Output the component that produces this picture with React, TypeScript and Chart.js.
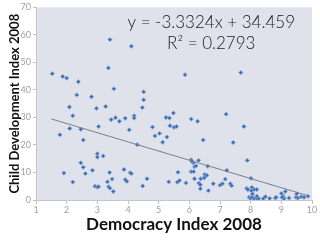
import React, { useEffect, useRef } from "react";
import { Chart, registerables } from "chart.js";

Chart.register(...registerables);

const democracyIndex: number[] = [
  1.53, 1.87, 2.0, 2.38, 2.33, 2.81, 3.41, 3.36, 3.54, 4.11, 4.51, 4.51, 5.86, 7.68,
  2.09, 2.2, 2.97, 3.27, 3.45, 3.59, 3.72, 3.91, 4.04, 3.04, 2.1, 2.46, 1.78, 2.54,
  4.2, 4.2, 4.47, 4.3, 4.8, 4.88, 5.03, 5.13, 5.27, 5.24, 5.35, 5.48, 5.37, 5.5, 5.58,
  6.06, 6.27, 6.45, 7.2, 7.78, 7.43,
  3.0, 3.0, 3.19, 2.46, 2.54, 2.61, 2.84, 1.91, 2.2, 3.4, 3.87, 3.91, 3.96, 4.07, 4.11,
  3.48, 3.33, 3.37, 3.41, 2.92, 2.99, 3.04, 3.52, 4.48, 4.62, 5.33, 5.63, 5.61, 5.68,
  5.89, 6.06, 6.13, 6.09, 6.3, 6.06, 6.14, 6.17, 6.22, 6.6, 6.17, 6.37, 6.31, 6.36,
  6.5, 6.52, 6.57, 6.48, 6.36, 6.62, 6.78, 7.0, 7.08, 7.22, 7.17, 7.34, 7.38, 7.89,
  8.01, 7.87, 7.91, 8.04, 8.02, 8.11, 8.2,
  7.95, 7.99, 8.04, 8.11, 8.2, 8.06, 8.2, 8.26, 8.41, 8.48, 8.62, 8.8, 8.83, 9.0,
  9.06, 9.13, 9.09, 9.02, 9.25, 9.5, 9.48, 9.54, 9.65, 9.74, 9.87,
];

const childDevIndex: number[] = [
  45.9, 44.9, 44.3, 43.0, 38.2, 37.5, 58.3, 48.0, 40.4, 55.9, 39.3, 36.4, 45.5, 46.3,
  33.8, 30.6, 33.3, 34.0, 29.2, 29.9, 28.6, 29.7, 25.5, 26.7, 26.0, 25.7, 23.7, 21.8,
  30.6, 29.8, 33.6, 20.1, 26.5, 23.3, 24.2, 21.0, 22.9, 30.0, 29.8, 31.6, 27.0, 26.4, 26.7,
  29.4, 28.6, 21.8, 31.2, 26.7, 20.9,
  16.8, 15.6, 16.0, 13.5, 11.9, 9.6, 10.8, 9.8, 6.5, 10.0, 11.1, 7.4, 6.8, 9.9, 9.6,
  7.6, 6.6, 4.8, 4.3, 5.0, 4.7, 4.8, 3.1, 5.1, 7.7, 6.6, 10.1, 6.5, 7.1,
  6.2, 14.6, 13.5, 14.0, 14.4, 10.3, 10.3, 12.1, 12.4, 12.3, 7.7, 7.7, 6.1, 5.5,
  9.3, 8.5, 9.0, 8.0, 4.1, 3.4, 5.9, 5.4, 5.9, 10.8, 7.6, 5.9, 5.2, 14.4,
  7.9, 4.2, 3.8, 4.6, 3.4, 3.8, 3.8,
  1.0, 0.6, 1.0, 0.5, 0.5, 2.2, 1.4, 0.5, 0.5, 1.2, 0.6, 0.7, 1.0, 2.4,
  1.4, 3.1, 0.5, 1.0, 0.7, 2.2, 1.0, 0.7, 1.2, 1.0, 1.4,
];

const trendSlope = -3.3324;
const trendIntercept = 34.459;
const trendRange: number[] = [1.5, 9.85];
const equationLines: string[] = ["y = -3.3324x + 34.459", "R\u00B2 = 0.2793"];

const xTitle = "Democracy Index 2008";
const yTitle = "Child Development Index 2008";

export default function App() {
  const ref = useRef<HTMLCanvasElement | null>(null);

  useEffect(() => {
    document.body.style.margin = "0";
    const canvas = ref.current;
    if (!canvas) return;

    const bgPlugin = {
      id: "plotBg",
      beforeDraw(chart: any) {
        const { ctx, chartArea } = chart;
        ctx.save();
        ctx.fillStyle = "#dfe2ea";
        ctx.fillRect(chartArea.left, chartArea.top, chartArea.right - chartArea.left, chartArea.bottom - chartArea.top);
        ctx.restore();
      },
    };

    const eqPlugin = {
      id: "equation",
      afterDraw(chart: any) {
        const { ctx, chartArea } = chart;
        ctx.save();
        ctx.fillStyle = "#1a1a1a";
        ctx.font = "300 17px Lato";
        ctx.textAlign = "center";
        ctx.textBaseline = "alphabetic";
        const cx = chartArea.left + (chartArea.right - chartArea.left) * 0.635;
        ctx.fillText(equationLines[0], cx, chartArea.top + 21);
        ctx.fillText(equationLines[1], cx, chartArea.top + 42);
        ctx.restore();
      },
    };

    const points = democracyIndex.map((x, i) => ({ x, y: childDevIndex[i] }));
    const trend = trendRange.map((x) => ({ x, y: trendSlope * x + trendIntercept }));

    const chart = new Chart(canvas, {
      type: "scatter",
      data: {
        datasets: [
          {
            type: "line",
            data: trend,
            borderColor: "#7a7f88",
            borderWidth: 1,
            pointRadius: 0,
            fill: false,
          } as any,
          {
            data: points,
            pointStyle: "rectRot",
            pointRadius: 2.2,
            backgroundColor: "#3c6db0",
            borderColor: "rgba(150,180,225,0.7)",
            borderWidth: 1,
          },
        ],
      },
      plugins: [bgPlugin, eqPlugin],
      options: {
        responsive: false,
        animation: false,
        layout: { padding: { top: 6, right: 8, left: 0, bottom: 0 } },
        plugins: { legend: { display: false }, tooltip: { enabled: false } },
        scales: {
          x: {
            type: "linear",
            min: 1,
            max: 10,
            afterFit: (s: any) => {
              s.height = 40;
            },
            ticks: { stepSize: 1, color: "#a0a0a0", font: { family: "Lato", size: 9 }, padding: 1, maxRotation: 0 },
            grid: { display: true, drawOnChartArea: false, drawTicks: true, tickLength: 4, tickColor: "#c0c0c0" },
            border: { display: true, color: "#c4c7cd" },
            title: {
              display: true,
              text: xTitle,
              color: "#111",
              font: { family: "Lato", size: 17, weight: "bold" },
              padding: { top: 0, bottom: 5 },
            },
          },
          y: {
            type: "linear",
            min: 0,
            max: 70,
            afterFit: (s: any) => {
              s.width = 36;
            },
            ticks: { stepSize: 10, color: "#a0a0a0", font: { family: "Lato", size: 9 }, padding: 2 },
            grid: { display: true, drawOnChartArea: false, drawTicks: true, tickLength: 3, tickColor: "#c0c0c0" },
            border: { display: true, color: "#c4c7cd" },
            title: {
              display: true,
              text: yTitle,
              color: "#111",
              font: { family: "Lato", size: 13, weight: "bold" },
              padding: { top: 7, bottom: 0 },
            },
          },
        },
      },
    });

    return () => chart.destroy();
  }, []);

  return (
    <div style={{ width: 320, height: 240, background: "#ffffff" }}>
      <canvas ref={ref} width={320} height={240} style={{ display: "block" }} />
    </div>
  );
}
